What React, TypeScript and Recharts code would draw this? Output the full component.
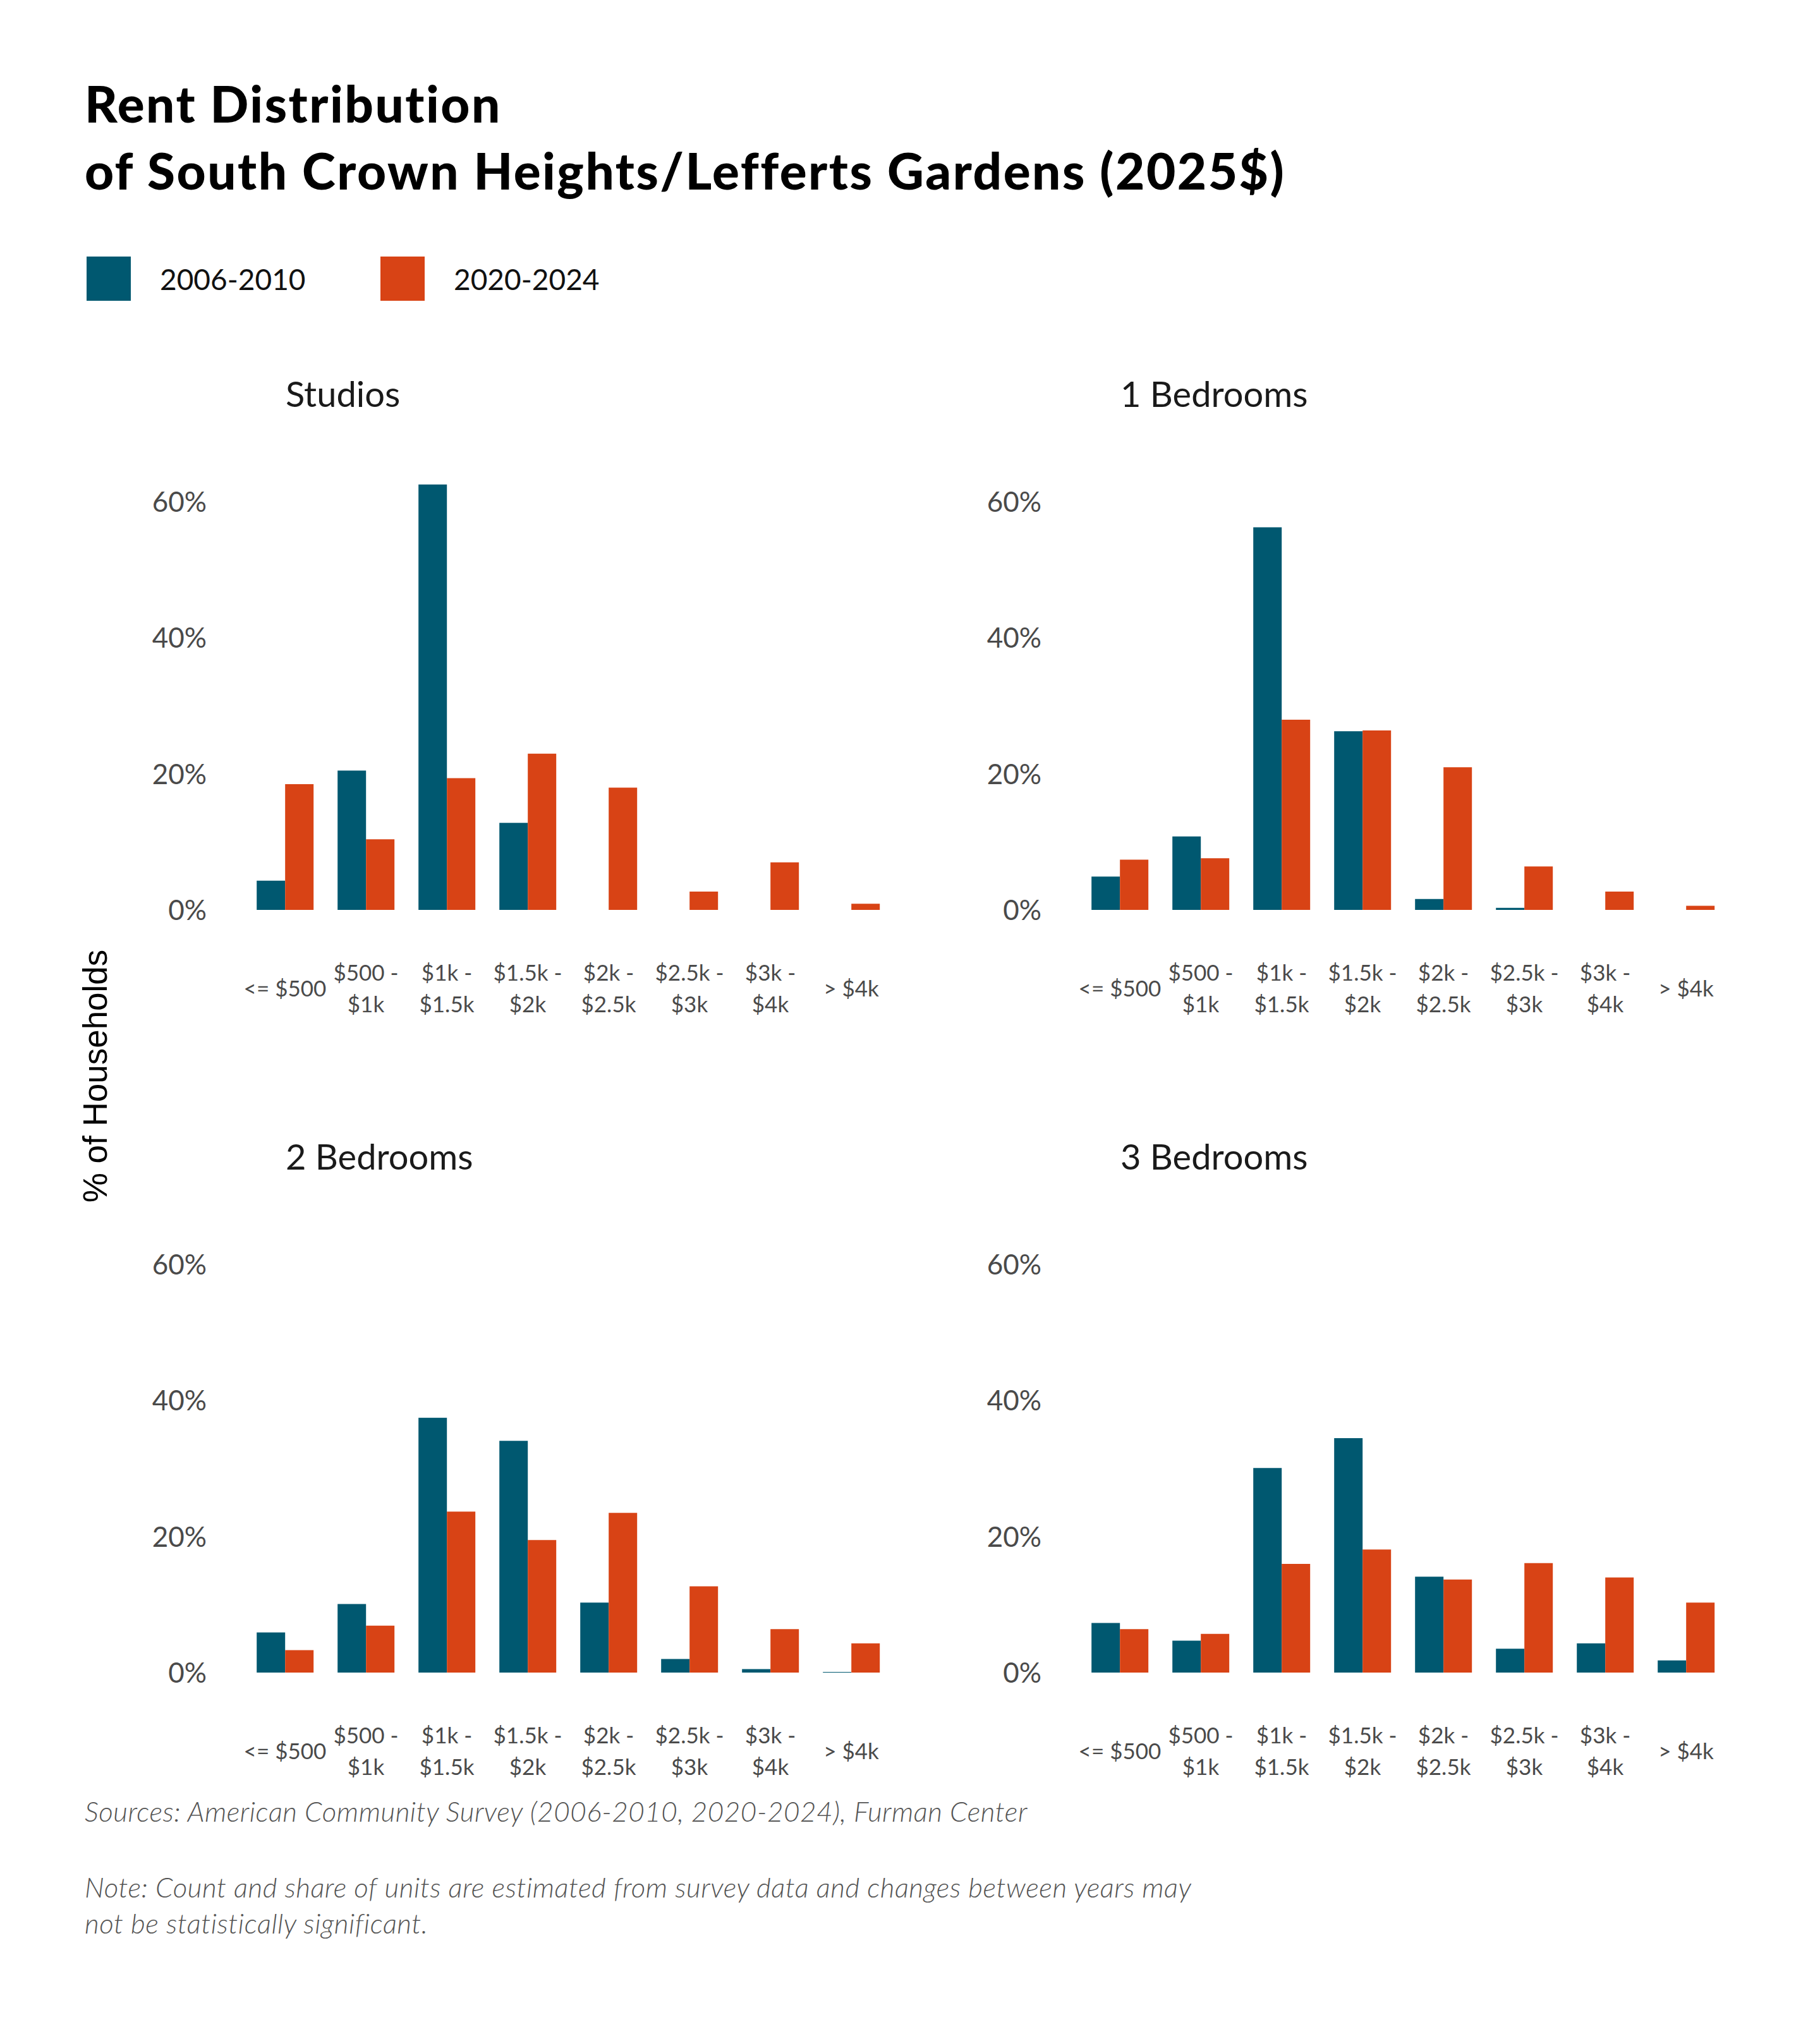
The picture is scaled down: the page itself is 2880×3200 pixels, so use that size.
import React from 'react';
import { BarChart, Bar, XAxis, YAxis } from 'recharts';

// rent brackets, in order
const brackets = [
  '<= $500',
  '$500 - $1k',
  '$1k - $1.5k',
  '$1.5k - $2k',
  '$2k - $2.5k',
  '$2.5k - $3k',
  '$3k - $4k',
  '> $4k',
];

// how the bracket labels break on two lines
const bracketLines: string[][] = [
  ['<= $500'],
  ['$500 -', '$1k'],
  ['$1k -', '$1.5k'],
  ['$1.5k -', '$2k'],
  ['$2k -', '$2.5k'],
  ['$2.5k -', '$3k'],
  ['$3k -', '$4k'],
  ['> $4k'],
];

// share of households (%) per bracket
const studios2006 = [4.3, 20.5, 62.6, 12.8, 0, 0, 0, 0];
const studios2020 = [18.5, 10.4, 19.4, 23.0, 18.0, 2.7, 7.0, 0.9];
const oneBed2006 = [4.9, 10.8, 56.3, 26.3, 1.6, 0.3, 0, 0];
const oneBed2020 = [7.4, 7.6, 28.0, 26.4, 21.0, 6.4, 2.7, 0.6];
const twoBed2006 = [5.9, 10.1, 37.5, 34.1, 10.3, 2.0, 0.5, 0.1];
const twoBed2020 = [3.3, 6.9, 23.7, 19.5, 23.5, 12.7, 6.4, 4.3];
const threeBed2006 = [7.3, 4.7, 30.1, 34.5, 14.1, 3.5, 4.3, 1.8];
const threeBed2020 = [6.4, 5.7, 16.0, 18.1, 13.7, 16.1, 14.0, 10.3];

const yTicks = [0, 20, 40, 60];
const seriesNames = ['2006-2010', '2020-2024'];

const BLUE = '#005870';
const ORANGE = '#d84315';
const colors = [BLUE, ORANGE];

const FONT = 'Lato, "Open Sans", sans-serif';

const buildRows = (early: number[], late: number[]) =>
  brackets.map((b, i) => ({ bracket: b, early: early[i], late: late[i] }));

const BracketTick = (props: any) => {
  const { x, y, index } = props;
  const lines = bracketLines[index] || [props.payload.value];
  const offsets = lines.length === 1 ? [123] : [98, 148];
  return (
    <g>
      {lines.map((line, i) => (
        <text
          key={i}
          x={x}
          y={y + offsets[i]}
          textAnchor="middle"
          dominantBaseline="central"
          fontFamily={FONT}
          fontSize={35}
          fill="#4a4a4a">
          {line}
        </text>
      ))}
    </g>
  );
};

interface PanelProps {
  title: string;
  early: number[];
  late: number[];
  left: number;
  top: number;
}

const Panel: React.FC<PanelProps> = ({ title, early, late, left, top }) => {
  const data = buildRows(early, late);
  return (
    <>
      <div
        style={{
          position: 'absolute',
          left: left + 265,
          top: top - 110,
          fontFamily: FONT,
          fontSize: 56,
          lineHeight: '64px',
          color: '#1a1a1a',
          whiteSpace: 'nowrap',
        }}>
        {title}
      </div>
      <div style={{ position: 'absolute', left, top }}>
        <BarChart
          width={1284}
          height={939}
          data={data}
          barCategoryGap="15%"
          barGap={0}
          margin={{ top: 40, right: 60, left: 0, bottom: 0 }}>
          <XAxis
            dataKey="bracket"
            axisLine={false}
            tickLine={false}
            tickSize={0}
            tickMargin={0}
            height={200}
            interval={0}
            tick={<BracketTick />}
          />
          <YAxis
            width={200}
            domain={[0, 65]}
            ticks={yTicks}
            axisLine={false}
            tickLine={false}
            tickSize={0}
            tickMargin={60}
            tickFormatter={(v: number) => `${v}%`}
            tick={{ fontFamily: FONT, fontSize: 44, fill: '#4a4a4a' }}
          />
          <Bar dataKey="early" fill={BLUE} isAnimationActive={false} />
          <Bar dataKey="late" fill={ORANGE} isAnimationActive={false} />
        </BarChart>
      </div>
    </>
  );
};

const App: React.FC = () => {
  return (
    <div
      style={{
        position: 'absolute',
        left: 0,
        top: 0,
        width: 2880,
        height: 3200,
        background: '#ffffff',
        overflow: 'hidden',
      }}>
      <div
        style={{
          position: 'absolute',
          left: 134,
          top: 110,
          fontFamily: FONT,
          fontWeight: 900,
          fontSize: 80,
          letterSpacing: 2.5,
          lineHeight: '106px',
          color: '#000',
          whiteSpace: 'nowrap',
        }}>
        Rent Distribution
        <br />
        of South Crown Heights/Lefferts Gardens (2025$)
      </div>

      {seriesNames.map((name, i) => (
        <div
          key={name}
          style={{
            position: 'absolute',
            left: 137 + i * 465,
            top: 406,
            height: 70,
            display: 'flex',
            alignItems: 'center',
          }}>
          <div style={{ width: 70, height: 70, background: colors[i] }} />
          <span
            style={{
              marginLeft: 46,
              fontFamily: FONT,
              fontSize: 46,
              color: '#111',
            }}>
            {name}
          </span>
        </div>
      ))}

      <div
        style={{
          position: 'absolute',
          left: 150,
          top: 1703,
          transform: 'translate(-50%, -50%) rotate(-90deg)',
          fontFamily: '"Liberation Sans", Arial, sans-serif',
          fontSize: 53,
          color: '#000',
          whiteSpace: 'nowrap',
        }}>
        % of Households
      </div>

      <Panel title="Studios" early={studios2006} late={studios2020} left={187} top={701} />
      <Panel title="1 Bedrooms" early={oneBed2006} late={oneBed2020} left={1508} top={701} />
      <Panel title="2 Bedrooms" early={twoBed2006} late={twoBed2020} left={187} top={1908} />
      <Panel title="3 Bedrooms" early={threeBed2006} late={threeBed2020} left={1508} top={1908} />

      <div
        style={{
          position: 'absolute',
          left: 134,
          top: 2841,
          fontFamily: FONT,
          fontStyle: 'italic',
          fontWeight: 300,
          fontSize: 44,
          letterSpacing: 0.5,
          lineHeight: '50px',
          color: '#555',
          whiteSpace: 'nowrap',
        }}>
        Sources: American Community Survey (2006-2010, 2020-2024), Furman Center
      </div>
      <div
        style={{
          position: 'absolute',
          left: 134,
          top: 2958,
          fontFamily: FONT,
          fontStyle: 'italic',
          fontWeight: 300,
          fontSize: 44,
          letterSpacing: 0.5,
          lineHeight: '57px',
          color: '#555',
          whiteSpace: 'nowrap',
        }}>
        Note: Count and share of units are estimated from survey data and changes between years may
        <br />
        not be statistically significant.
      </div>
    </div>
  );
};

export default App;
